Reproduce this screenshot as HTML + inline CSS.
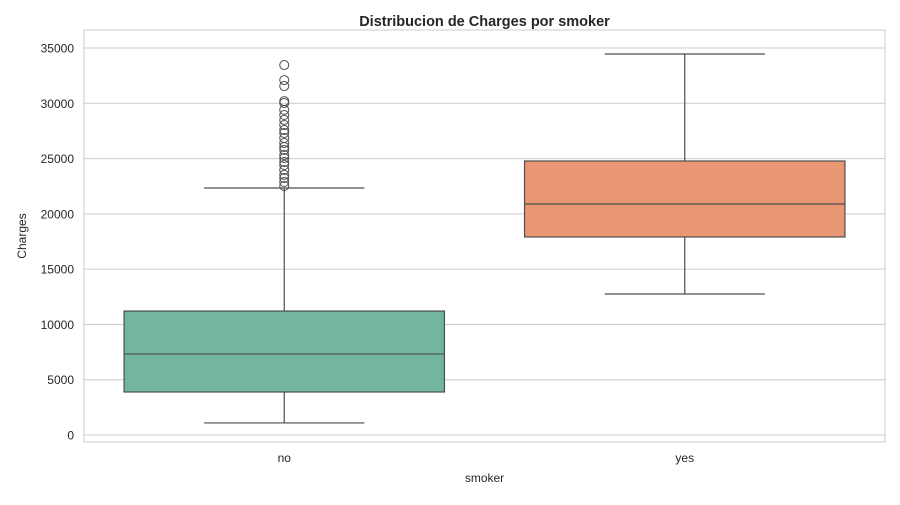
<!DOCTYPE html>
<html><head><meta charset="utf-8"><style>
body{margin:0;background:#fff;font-family:"Liberation Sans",Arial,sans-serif}
</style></head><body>
<svg id="c" width="900" height="500" xmlns="http://www.w3.org/2000/svg"></svg>
<script>
const categories=["no","yes"];
const q1=[3890,17910];
const medians=[7330,20890];
const q3=[11210,24780];
const whiskLow=[1090,12750];
const whiskHigh=[22340,34460];
const outliersNo=[33460,32100,31560,30200,30030,29400,28940,28490,28040,27580,27310,26860,26410,26050,25780,25320,25050,24690,24420,23970,23520,23240,22880,22520];
const outliersYes=[];
const yTicks=[0,5000,10000,15000,20000,25000,30000,35000];
const colors=["#72b6a1","#e99675"];
const outliers=[outliersNo,outliersYes];
const L=84,R=885,T=30,B=442;
const y=v=>435-v*387/35000;
const bw=(R-L)/categories.length;
const xc=i=>L+bw*(i+0.5);
const s=document.getElementById('c');
const NS="http://www.w3.org/2000/svg";
function mk(t,a,txt){const e=document.createElementNS(NS,t);for(const k in a)e.setAttribute(k,a[k]);if(txt!==undefined)e.textContent=txt;s.appendChild(e);return e;}
let e;
e=mk('rect',{x:L,y:T,width:R-L,height:B-T,fill:'#fff',stroke:'#cccccc'});


yTicks.forEach(t=>{
 e=mk('line',{x1:L,x2:R,y1:y(t),y2:y(t),stroke:'#cccccc'});
 
 
 e=mk('text',{x:L-10,y:y(t)+4.5,'text-anchor':'end','font-size':12,fill:'#262626'},t);
 
 
});
categories.forEach((c,i)=>{
 const x=xc(i),w=bw*0.8;
 e=mk('line',{x1:x,x2:x,y1:y(whiskLow[i]),y2:y(q1[i]),stroke:'#4d4d4d','stroke-width':1.2});
 
 
 e=mk('line',{x1:x,x2:x,y1:y(q3[i]),y2:y(whiskHigh[i]),stroke:'#4d4d4d','stroke-width':1.2});
 
 
 [whiskLow[i],whiskHigh[i]].forEach(v=>{
  e=mk('line',{x1:x-w/4,x2:x+w/4,y1:y(v),y2:y(v),stroke:'#4d4d4d','stroke-width':1.2});
  
  
 });
 e=mk('rect',{x:x-w/2,y:y(q3[i]),width:w,height:y(q1[i])-y(q3[i]),fill:colors[i],stroke:'#4d4d4d','stroke-width':1.2});
 
 
 e=mk('line',{x1:x-w/2,x2:x+w/2,y1:y(medians[i]),y2:y(medians[i]),stroke:'#4d4d4d','stroke-width':1.2});
 
 
 outliers[i].forEach(v=>{
  e=mk('circle',{cx:x,cy:y(v),r:4.5,fill:'none',stroke:'#4d4d4d','stroke-width':1});
  
  
 });
 e=mk('text',{x:x,y:462,'text-anchor':'middle','font-size':12,fill:'#262626'},c);
 
 
});
e=mk('text',{x:(L+R)/2,y:482,'text-anchor':'middle','font-size':12,fill:'#262626'},'smoker');


e=mk('text',{x:26,y:(T+B)/2,'text-anchor':'middle','font-size':12,fill:'#262626',transform:'rotate(-90 26 '+((T+B)/2)+')'},'Charges');


e=mk('text',{x:(L+R)/2,y:26,'text-anchor':'middle','font-size':14.5,'font-weight':'bold',fill:'#262626'},'Distribucion de Charges por smoker');


</script>
</body></html>
